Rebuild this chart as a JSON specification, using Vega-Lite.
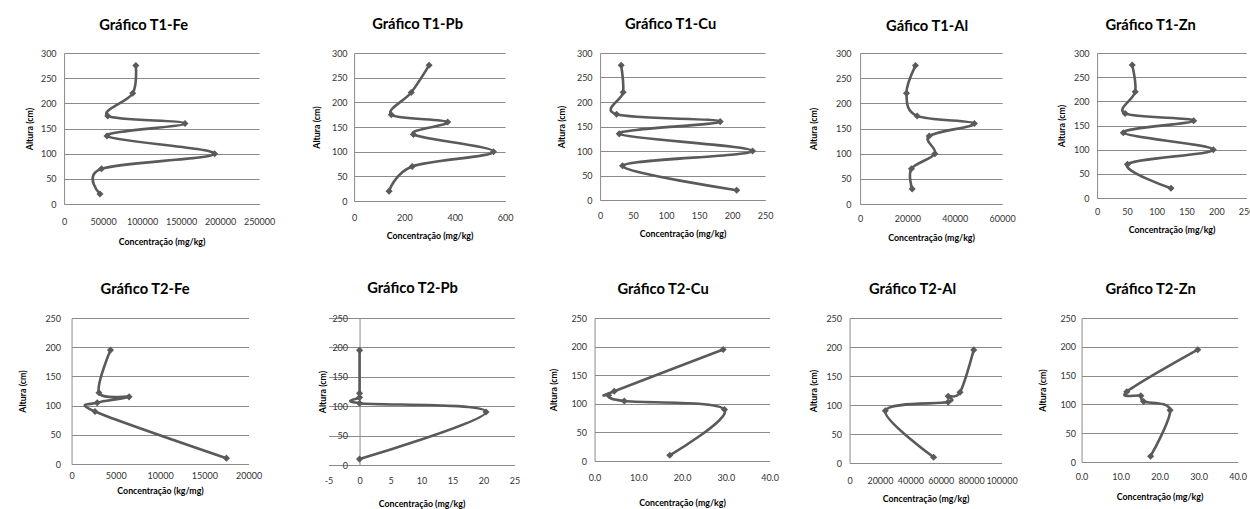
{
  "$schema": "https://vega.github.io/schema/vega-lite/v6.json",
  "padding": {"left": 18, "top": 17, "right": 5, "bottom": 5},
  "background": "white",
  "data": {"values": [
    {"p": "T1-Fe", "h": 275, "c": 92000}, {"p": "T1-Fe", "h": 220, "c": 88000}, {"p": "T1-Fe", "h": 175, "c": 56000}, {"p": "T1-Fe", "h": 160, "c": 155000}, {"p": "T1-Fe", "h": 135, "c": 55000}, {"p": "T1-Fe", "h": 100, "c": 193000}, {"p": "T1-Fe", "h": 70, "c": 48000}, {"p": "T1-Fe", "h": 20, "c": 46000},
    {"p": "T1-Pb", "h": 275, "c": 298}, {"p": "T1-Pb", "h": 220, "c": 227}, {"p": "T1-Pb", "h": 175, "c": 148}, {"p": "T1-Pb", "h": 160, "c": 372}, {"p": "T1-Pb", "h": 135, "c": 236}, {"p": "T1-Pb", "h": 100, "c": 554}, {"p": "T1-Pb", "h": 70, "c": 231}, {"p": "T1-Pb", "h": 20, "c": 139},
    {"p": "T1-Cu", "h": 275, "c": 32}, {"p": "T1-Cu", "h": 220, "c": 35}, {"p": "T1-Cu", "h": 175, "c": 25}, {"p": "T1-Cu", "h": 160, "c": 182}, {"p": "T1-Cu", "h": 135, "c": 29}, {"p": "T1-Cu", "h": 100, "c": 231}, {"p": "T1-Cu", "h": 70, "c": 34}, {"p": "T1-Cu", "h": 20, "c": 207},
    {"p": "T1-Al", "h": 275, "c": 23400}, {"p": "T1-Al", "h": 220, "c": 19600}, {"p": "T1-Al", "h": 175, "c": 24100}, {"p": "T1-Al", "h": 160, "c": 48300}, {"p": "T1-Al", "h": 135, "c": 29200}, {"p": "T1-Al", "h": 100, "c": 31600}, {"p": "T1-Al", "h": 70, "c": 21700}, {"p": "T1-Al", "h": 30, "c": 22000},
    {"p": "T1-Zn", "h": 275, "c": 59}, {"p": "T1-Zn", "h": 220, "c": 64}, {"p": "T1-Zn", "h": 175, "c": 47}, {"p": "T1-Zn", "h": 160, "c": 162}, {"p": "T1-Zn", "h": 135, "c": 44}, {"p": "T1-Zn", "h": 100, "c": 195}, {"p": "T1-Zn", "h": 70, "c": 51}, {"p": "T1-Zn", "h": 20, "c": 124},
    {"p": "T2-Fe", "h": 195, "c": 4400}, {"p": "T2-Fe", "h": 122, "c": 3100}, {"p": "T2-Fe", "h": 115, "c": 6500}, {"p": "T2-Fe", "h": 105, "c": 2900}, {"p": "T2-Fe", "h": 90, "c": 2650}, {"p": "T2-Fe", "h": 10, "c": 17500},
    {"p": "T2-Pb", "h": 195, "c": 0}, {"p": "T2-Pb", "h": 122, "c": 0}, {"p": "T2-Pb", "h": 115, "c": 0}, {"p": "T2-Pb", "h": 105, "c": 0}, {"p": "T2-Pb", "h": 90, "c": 20.4}, {"p": "T2-Pb", "h": 10, "c": 0},
    {"p": "T2-Cu", "h": 195, "c": 29.4}, {"p": "T2-Cu", "h": 122, "c": 4.5}, {"p": "T2-Cu", "h": 115, "c": 3.2}, {"p": "T2-Cu", "h": 105, "c": 6.8}, {"p": "T2-Cu", "h": 90, "c": 29.7}, {"p": "T2-Cu", "h": 10, "c": 17.2},
    {"p": "T2-Al", "h": 195, "c": 81700}, {"p": "T2-Al", "h": 122, "c": 72700}, {"p": "T2-Al", "h": 115, "c": 64900}, {"p": "T2-Al", "h": 105, "c": 64900}, {"p": "T2-Al", "h": 90, "c": 23500}, {"p": "T2-Al", "h": 10, "c": 55300},
    {"p": "T2-Zn", "h": 195, "c": 29.8}, {"p": "T2-Zn", "h": 122, "c": 11.6}, {"p": "T2-Zn", "h": 115, "c": 15.2}, {"p": "T2-Zn", "h": 105, "c": 15.9}, {"p": "T2-Zn", "h": 90, "c": 22.7}, {"p": "T2-Zn", "h": 10, "c": 17.7}
  ]},
  "concat": [
    {
      "hconcat": [
        {
          "width": 195, "height": 151,
          "title": {"text": "Gráfico T1-Fe", "dx": -18, "offset": 16},
          "transform": [{"filter": "datum.p == 'T1-Fe'"}],
          "encoding": {
            "x": {"field": "c", "type": "quantitative", "scale": {"domain": [0, 250000], "nice": false}, "axis": {"values": [0, 50000, 100000, 150000, 200000, 250000], "format": "d", "title": "Concentração (mg/kg)", "labelPadding": 13, "titlePadding": 11}},
            "y": {"field": "h", "type": "quantitative", "scale": {"domain": [0, 300], "nice": false}, "axis": {"values": [0, 50, 100, 150, 200, 250, 300], "title": "Altura (cm)", "labelPadding": 8, "titlePadding": 6}},
            "order": {"field": "h", "sort": "descending"}
          },
          "layer": [
            {"mark": {"type": "line", "interpolate": "cardinal", "color": "#5a5a5a", "strokeWidth": 2.6}},
            {"mark": {"type": "point", "shape": "diamond", "filled": true, "size": 50, "color": "#5a5a5a", "opacity": 1}}
          ]
        },
        {
          "width": 151, "height": 148,
          "title": {"text": "Gráfico T1-Pb", "dx": -12, "offset": 17},
          "transform": [{"filter": "datum.p == 'T1-Pb'"}],
          "encoding": {
            "x": {"field": "c", "type": "quantitative", "scale": {"domain": [0, 600], "nice": false}, "axis": {"values": [0, 200, 400, 600], "format": "d", "title": "Concentração (mg/kg)", "labelPadding": 12, "titlePadding": 9}},
            "y": {"field": "h", "type": "quantitative", "scale": {"domain": [0, 300], "nice": false}, "axis": {"values": [0, 50, 100, 150, 200, 250, 300], "title": "Altura (cm)", "labelPadding": 7, "titlePadding": 10}},
            "order": {"field": "h", "sort": "descending"}
          },
          "layer": [
            {"mark": {"type": "line", "interpolate": "cardinal", "color": "#5a5a5a", "strokeWidth": 2.6}},
            {"mark": {"type": "point", "shape": "diamond", "filled": true, "size": 50, "color": "#5a5a5a", "opacity": 1}}
          ]
        },
        {
          "width": 165, "height": 147,
          "title": {"text": "Gráfico T1-Cu", "dx": -12, "offset": 17},
          "transform": [{"filter": "datum.p == 'T1-Cu'"}],
          "encoding": {
            "x": {"field": "c", "type": "quantitative", "scale": {"domain": [0, 250], "nice": false}, "axis": {"values": [0, 50, 100, 150, 200, 250], "format": "d", "title": "Concentração (mg/kg)", "labelPadding": 11, "titlePadding": 9}},
            "y": {"field": "h", "type": "quantitative", "scale": {"domain": [0, 300], "nice": false}, "axis": {"values": [0, 50, 100, 150, 200, 250, 300], "title": "Altura (cm)", "labelPadding": 8, "titlePadding": 10}},
            "order": {"field": "h", "sort": "descending"}
          },
          "layer": [
            {"mark": {"type": "line", "interpolate": "cardinal", "color": "#5a5a5a", "strokeWidth": 2.6}},
            {"mark": {"type": "point", "shape": "diamond", "filled": true, "size": 50, "color": "#5a5a5a", "opacity": 1}}
          ]
        },
        {
          "width": 142, "height": 151,
          "title": {"text": "Gáfico T1-Al", "dx": -4, "offset": 15},
          "transform": [{"filter": "datum.p == 'T1-Al'"}],
          "encoding": {
            "x": {"field": "c", "type": "quantitative", "scale": {"domain": [0, 60000], "nice": false}, "axis": {"values": [0, 20000, 40000, 60000], "format": "d", "title": "Concentração (mg/kg)", "labelPadding": 10, "titlePadding": 10}},
            "y": {"field": "h", "type": "quantitative", "scale": {"domain": [0, 300], "nice": false}, "axis": {"values": [0, 50, 100, 150, 200, 250, 300], "title": "Altura (cm)", "labelPadding": 9, "titlePadding": 17}},
            "order": {"field": "h", "sort": "descending"}
          },
          "layer": [
            {"mark": {"type": "line", "interpolate": "cardinal", "color": "#5a5a5a", "strokeWidth": 2.6}},
            {"mark": {"type": "point", "shape": "diamond", "filled": true, "size": 50, "color": "#5a5a5a", "opacity": 1}}
          ]
        },
        {
          "width": 149, "height": 145,
          "title": {"text": "Gráfico T1-Zn", "dx": -21, "offset": 16},
          "transform": [{"filter": "datum.p == 'T1-Zn'"}],
          "encoding": {
            "x": {"field": "c", "type": "quantitative", "scale": {"domain": [0, 250], "nice": false}, "axis": {"values": [0, 50, 100, 150, 200, 250], "format": "d", "title": "Concentração (mg/kg)", "labelPadding": 9, "titlePadding": 9}},
            "y": {"field": "h", "type": "quantitative", "scale": {"domain": [0, 300], "nice": false}, "axis": {"values": [0, 50, 100, 150, 200, 250, 300], "title": "Altura (cm)", "labelPadding": 8, "titlePadding": 7}},
            "order": {"field": "h", "sort": "descending"}
          },
          "layer": [
            {"mark": {"type": "line", "interpolate": "cardinal", "color": "#5a5a5a", "strokeWidth": 2.6}},
            {"mark": {"type": "point", "shape": "diamond", "filled": true, "size": 50, "color": "#5a5a5a", "opacity": 1}}
          ]
        }
      ],
      "spacing": 95,
      "bounds": "flush"
    },
    {
      "hconcat": [
        {
          "width": 177, "height": 146,
          "title": {"text": "Gráfico T2-Fe", "dx": -15, "offset": 17},
          "transform": [{"filter": "datum.p == 'T2-Fe'"}],
          "encoding": {
            "x": {"field": "c", "type": "quantitative", "scale": {"domain": [0, 20000], "nice": false}, "axis": {"values": [0, 5000, 10000, 15000, 20000], "format": "d", "title": "Concentração (kg/mg)", "labelPadding": 7, "titlePadding": 6}},
            "y": {"field": "h", "type": "quantitative", "scale": {"domain": [0, 250], "nice": false}, "axis": {"values": [0, 50, 100, 150, 200, 250], "title": "Altura (cm)", "labelPadding": 11, "titlePadding": 17}},
            "order": {"field": "h", "sort": "descending"}
          },
          "layer": [
            {"mark": {"type": "line", "interpolate": "cardinal", "color": "#5a5a5a", "strokeWidth": 2.6}},
            {"mark": {"type": "point", "shape": "diamond", "filled": true, "size": 50, "color": "#5a5a5a", "opacity": 1}}
          ]
        },
        {
          "width": 186, "height": 147,
          "title": {"text": "Gráfico T2-Pb", "dx": -9, "offset": 18},
          "transform": [{"filter": "datum.p == 'T2-Pb'"}],
          "encoding": {
            "x": {"field": "c", "type": "quantitative", "scale": {"domain": [-5, 25], "nice": false, "zero": false}, "axis": {"values": [-5, 0, 5, 10, 15, 20, 25], "format": "d", "title": "Concentração (mg/kg)", "labelPadding": 11, "titlePadding": 14}},
            "y": {"field": "h", "type": "quantitative", "scale": {"domain": [0, 250], "nice": false}, "axis": {"values": [0, 50, 100, 150, 200, 250], "title": "Altura (cm)", "offset": -31, "labelPadding": 12, "titlePadding": 4}},
            "order": {"field": "h", "sort": "descending"}
          },
          "layer": [
            {"mark": {"type": "line", "interpolate": "cardinal", "color": "#5a5a5a", "strokeWidth": 2.6}},
            {"mark": {"type": "point", "shape": "diamond", "filled": true, "size": 50, "color": "#5a5a5a", "opacity": 1}}
          ]
        },
        {
          "width": 175, "height": 143,
          "title": {"text": "Gráfico T2-Cu", "dx": -19, "offset": 17},
          "transform": [{"filter": "datum.p == 'T2-Cu'"}],
          "encoding": {
            "x": {"field": "c", "type": "quantitative", "scale": {"domain": [0, 40], "nice": false}, "axis": {"values": [0, 10, 20, 30, 40], "format": ".1f", "title": "Concentração (mg/kg)", "labelPadding": 12, "titlePadding": 16}},
            "y": {"field": "h", "type": "quantitative", "scale": {"domain": [0, 250], "nice": false}, "axis": {"values": [0, 50, 100, 150, 200, 250], "title": "Altura (cm)", "labelPadding": 8, "titlePadding": 12}},
            "order": {"field": "h", "sort": "descending"}
          },
          "layer": [
            {"mark": {"type": "line", "interpolate": "cardinal", "color": "#5a5a5a", "strokeWidth": 2.6}},
            {"mark": {"type": "point", "shape": "diamond", "filled": true, "size": 50, "color": "#5a5a5a", "opacity": 1}}
          ]
        },
        {
          "width": 152, "height": 145,
          "title": {"text": "Gráfico T2-Al", "dx": -13, "offset": 17},
          "transform": [{"filter": "datum.p == 'T2-Al'"}],
          "encoding": {
            "x": {"field": "c", "type": "quantitative", "scale": {"domain": [0, 100000], "nice": false}, "axis": {"values": [0, 20000, 40000, 60000, 80000, 100000], "format": "d", "title": "Concentração (mg/kg)", "labelPadding": 13, "titlePadding": 9}},
            "y": {"field": "h", "type": "quantitative", "scale": {"domain": [0, 250], "nice": false}, "axis": {"values": [0, 50, 100, 150, 200, 250], "title": "Altura (cm)", "labelPadding": 8, "titlePadding": 7}},
            "order": {"field": "h", "sort": "descending"}
          },
          "layer": [
            {"mark": {"type": "line", "interpolate": "cardinal", "color": "#5a5a5a", "strokeWidth": 2.6}},
            {"mark": {"type": "point", "shape": "diamond", "filled": true, "size": 50, "color": "#5a5a5a", "opacity": 1}}
          ]
        },
        {
          "width": 156, "height": 144,
          "title": {"text": "Gráfico T2-Zn", "dx": -9, "offset": 17},
          "transform": [{"filter": "datum.p == 'T2-Zn'"}],
          "encoding": {
            "x": {"field": "c", "type": "quantitative", "scale": {"domain": [0, 40], "nice": false}, "axis": {"values": [0, 10, 20, 30, 40], "format": ".1f", "title": "Concentração (mg/kg)", "labelPadding": 10, "titlePadding": 11}},
            "y": {"field": "h", "type": "quantitative", "scale": {"domain": [0, 250], "nice": false}, "axis": {"values": [0, 50, 100, 150, 200, 250], "title": "Altura (cm)", "labelPadding": 6, "titlePadding": 12}},
            "order": {"field": "h", "sort": "descending"}
          },
          "layer": [
            {"mark": {"type": "line", "interpolate": "cardinal", "color": "#5a5a5a", "strokeWidth": 2.6}},
            {"mark": {"type": "point", "shape": "diamond", "filled": true, "size": 50, "color": "#5a5a5a", "opacity": 1}}
          ]
        }
      ],
      "spacing": 80,
      "bounds": "flush"
    }
  ],
  "columns": 1,
  "center": true,
  "spacing": 35,
  "config": {
    "font": "Lato",
    "view": {"stroke": null},
    "locale": {"number": {"decimal": ".", "thousands": ",", "grouping": [3], "currency": ["$", ""], "minus": "-"}},
    "title": {"font": "Lato", "fontSize": 14.7, "fontWeight": "bold", "color": "#000000", "anchor": "middle", "baseline": "alphabetic"},
    "axis": {"labelFont": "Lato", "labelFontSize": 9, "labelColor": "#333333", "titleFont": "Lato", "titleFontSize": 8.8, "titleFontWeight": "bold", "titleColor": "#000000", "domainColor": "#8a8a8a", "gridColor": "#8a8a8a", "ticks": false, "tickSize": 0, "labelOverlap": false, "labelFlush": false, "labelBound": false},
    "axisX": {"grid": false},
    "axisY": {"grid": true}
  }
}
